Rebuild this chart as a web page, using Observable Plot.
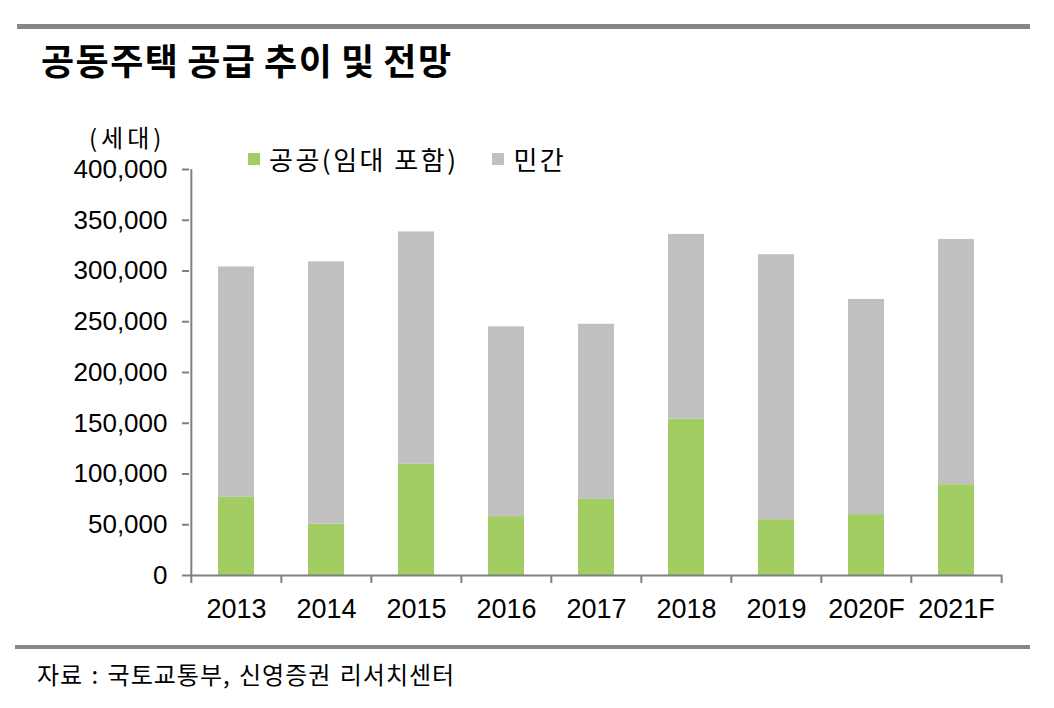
<!DOCTYPE html>
<html>
<head>
<meta charset="utf-8">
<script src="https://cdn.jsdelivr.net/npm/d3@7"></script>
<script src="https://cdn.jsdelivr.net/npm/@observablehq/plot@0.6"></script>
<style>
  html, body { margin: 0; padding: 0; background: #fff; }
  #wrap { position: relative; width: 1054px; height: 708px; overflow: hidden; font-family: "Noto Sans CJK KR", sans-serif; color: #000; }
  .rule { position: absolute; background: #878787; }
  #title { position: absolute; left: 41px; top: 41px; font-size: 36px; font-weight: 700; line-height: 1; letter-spacing: 1.5px; word-spacing: -2px; white-space: nowrap; }
  #unit { position: absolute; left: 89px; top: 125px; font-size: 24px; line-height: 1; letter-spacing: 4px; white-space: nowrap; }
  #legend { position: absolute; left: 248px; top: 146px; font-size: 26px; line-height: 1; white-space: nowrap; display: flex; align-items: center; }
  #legend .item { display: flex; align-items: center; margin-right: 34px; letter-spacing: 2.5px; }
  #legend .sw { width: 12px; height: 12px; margin-right: 9px; }
  #chart { position: absolute; left: 0; top: 140px; }
  #caption { position: absolute; left: 37px; top: 662px; font-size: 24px; line-height: 1; letter-spacing: 1px; word-spacing: 2px; white-space: nowrap; }
</style>
</head>
<body>
<div id="wrap">
  <div class="rule" style="left:17px; top:24px; width:1013px; height:5px;"></div>
  <div id="title"></div>
  <div id="unit"></div>
  <div id="legend"></div>
  <div id="chart"></div>
  <div class="rule" style="left:15px; top:645px; width:1015px; height:4px;"></div>
  <div id="caption"></div>
</div>
<script>
// Apartment (공동주택) supply by year, split into public and private, in households.
const years = ["2013", "2014", "2015", "2016", "2017", "2018", "2019", "2020F", "2021F"];
const publicUnits = [77000, 50500, 109500, 58000, 75000, 154000, 55000, 60000, 89500];
const privateUnits = [227000, 258500, 229000, 187000, 172500, 182000, 261000, 212000, 241500];
const seriesNames = ["공공(임대 포함)", "민간"];
const seriesColors = ["#a1cd63", "#c0c0c0"];
const yTicks = [0, 50000, 100000, 150000, 200000, 250000, 300000, 350000, 400000];

const titleText = "공동주택 공급 추이 및 전망";
const unitText = "(세대)";
const captionText = "자료 : 국토교통부, 신영증권 리서치센터";

document.getElementById("title").textContent = titleText;
document.getElementById("unit").textContent = unitText;
document.getElementById("caption").textContent = captionText;

// Legend
const legend = d3.select("#legend");
seriesNames.forEach((name, i) => {
  const item = legend.append("div").attr("class", "item");
  item.append("div").attr("class", "sw").style("background", seriesColors[i]);
  item.append("span").text(name);
});

// Long table: public stacked first (bottom), then private on top
const rows = years.flatMap((year, i) => [
  {year, series: seriesNames[0], value: publicUnits[i]},
  {year, series: seriesNames[1], value: privateUnits[i]}
]);

const width = 1054;
const height = 500;
const marginLeft = 189;
const marginRight = 52;
const marginTop = 29;
const marginBottom = 65;
const half = (width - marginLeft - marginRight) / years.length / 2;
const axisGray = "#808080";

const chart = Plot.plot({
  width,
  height,
  marginLeft,
  marginRight,
  marginTop,
  marginBottom,
  style: {fontFamily: "'Liberation Sans', Arial, sans-serif", fontSize: "26px", color: "#000", background: "transparent"},
  x: {domain: years, paddingInner: 0.6, paddingOuter: 0.3, axis: null},
  y: {domain: [0, 400000], axis: null},
  color: {domain: seriesNames, range: seriesColors},
  marks: [
    Plot.barY(rows, {x: "year", y: "value", fill: "series"}),
    // axis lines
    Plot.ruleY([0], {stroke: axisGray, strokeWidth: 2}),
    Plot.ruleX([years[0]], {y1: 0, y2: 400000, dx: -half, stroke: axisGray, strokeWidth: 2}),
    // y ticks and labels
    Plot.axisY(yTicks, {
      label: null, tickSize: 7, tickPadding: 15, tickFormat: d3.format(","),
      stroke: axisGray, strokeWidth: 2, fill: "#000", fontSize: 26
    }),
    // x ticks between categories
    Plot.axisX({label: null, tickSize: 8, tickFormat: null, dx: -half, stroke: axisGray, strokeWidth: 2}),
    Plot.axisX([years[years.length - 1]], {label: null, tickSize: 8, tickFormat: null, dx: half, stroke: axisGray, strokeWidth: 2}),
    // x labels
    Plot.axisX({label: null, tickSize: 0, tickPadding: 23, fill: "#000", fontSize: 27})
  ]
});

document.getElementById("chart").appendChild(chart);
</script>
</body>
</html>
